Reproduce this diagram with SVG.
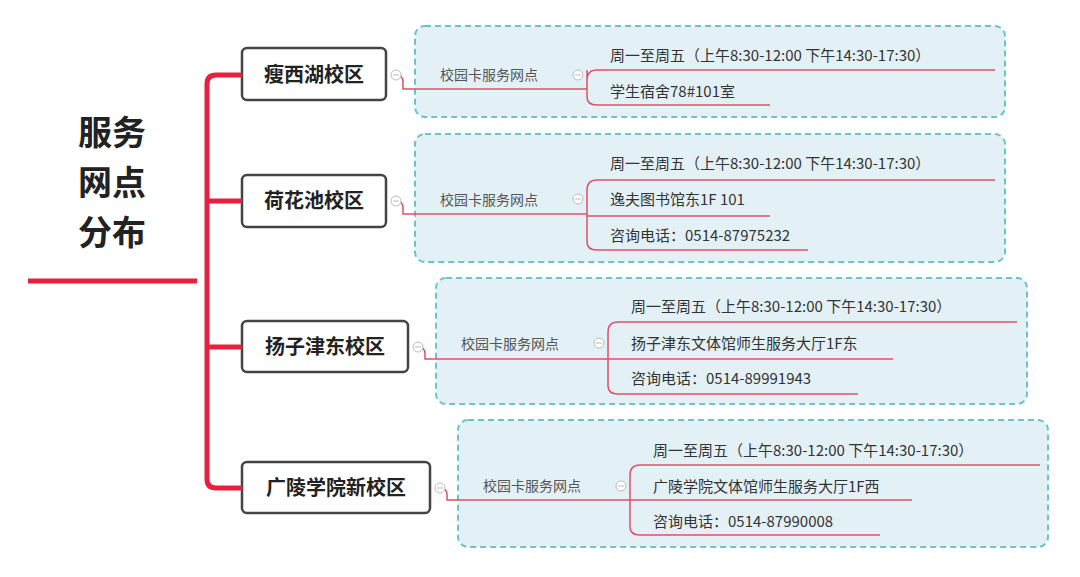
<svg xmlns="http://www.w3.org/2000/svg" width="1080" height="577" viewBox="0 0 1080 577">
<style>
text{font-family:"Noto Sans CJK SC","Noto Sans",sans-serif}
.title{font-size:34px;font-weight:bold;fill:#222}
.node rect{fill:#fff;stroke:#444;stroke-width:2.5}
.nt{font-size:20px;font-weight:bold;fill:#222}
.grp{fill:#e3f1f6;stroke:#6cc3c9;stroke-width:2;stroke-dasharray:6 4}
.lab{font-size:14px;fill:#555}
.it{font-size:15px;fill:#333}
.ln{fill:none;stroke:#e0506a;stroke-width:1.5}
.trunk{fill:none;stroke:#e8203f;stroke-width:5}
.col{fill:#fff;stroke:#bbb;stroke-width:1}
.mn{stroke:#bbb;stroke-width:1}
</style>
<rect width="1080" height="577" fill="#fff"/>
<g id="title"><text class="title" x="78" y="145">服务</text><text class="title" x="78" y="195">网点</text><text class="title" x="78" y="245">分布</text></g>
<g id="n1" class="node"><rect x="242" y="48" width="144" height="52" rx="5"/><text class="nt" x="314" y="82" text-anchor="middle">瘦西湖校区</text></g>
<g id="n2" class="node"><rect x="242" y="175" width="144" height="52" rx="5"/><text class="nt" x="314" y="208" text-anchor="middle">荷花池校区</text></g>
<g id="n3" class="node"><rect x="242" y="321" width="166" height="51" rx="5"/><text class="nt" x="325" y="354" text-anchor="middle">扬子津东校区</text></g>
<g id="n4" class="node"><rect x="242" y="462" width="188" height="51" rx="5"/><text class="nt" x="336" y="495" text-anchor="middle">广陵学院新校区</text></g>
<g id="g1"><rect class="grp" x="415" y="26" width="590" height="91" rx="10"/>
<text class="lab" x="440" y="80">校园卡服务网点</text>
<text class="it" x="610" y="61">周一至周五（上午8:30-12:00 下午14:30-17:30）</text>
<text class="it" x="610" y="97">学生宿舍78#101室</text></g>
<g id="g2"><rect class="grp" x="415" y="134" width="590" height="128" rx="10"/>
<text class="lab" x="440" y="205">校园卡服务网点</text>
<text class="it" x="610" y="169">周一至周五（上午8:30-12:00 下午14:30-17:30）</text>
<text class="it" x="610" y="205">逸夫图书馆东1F 101</text>
<text class="it" x="610" y="241">咨询电话：0514-87975232</text></g>
<g id="g3"><rect class="grp" x="436" y="278" width="591" height="126" rx="10"/>
<text class="lab" x="461" y="349">校园卡服务网点</text>
<text class="it" x="631" y="312">周一至周五（上午8:30-12:00 下午14:30-17:30）</text>
<text class="it" x="631" y="349">扬子津东文体馆师生服务大厅1F东</text>
<text class="it" x="631" y="384">咨询电话：0514-89991943</text></g>
<g id="g4"><rect class="grp" x="458" y="420" width="590" height="127" rx="10"/>
<text class="lab" x="483" y="491">校园卡服务网点</text>
<text class="it" x="653" y="456">周一至周五（上午8:30-12:00 下午14:30-17:30）</text>
<text class="it" x="653" y="492">广陵学院文体馆师生服务大厅1F西</text>
<text class="it" x="653" y="527">咨询电话：0514-87990008</text></g>
<g id="connectors">
<path class="trunk" d="M28 281H197"/>
<path class="trunk" d="M242 75H216Q207 75 207 84V479Q207 488 216 488H242M207 201H242M207 347H242"/>
<path class="ln" d="M396 75Q403 75 403 82V89H587M587 70V97M587 80Q587 70 597 70H995M587 97Q587 105 597 105H770"/>
<path class="ln" d="M396 201Q403 201 403 208V214H587M597 180H995M587 190Q587 180 597 180M587 190V242Q587 250 597 250H808M587 216H770"/>
<path class="ln" d="M418 347Q425 347 425 354V359H608M618 322H1017M608 332Q608 322 618 322M608 332V386Q608 394 618 394H858M608 359H893"/>
<path class="ln" d="M440 488Q447 488 447 495V500H630M640 465H1040M630 475Q630 465 640 465M630 475V527Q630 535 640 535H880M630 500H912"/>
<circle class="col" cx="396" cy="75" r="5"/><circle class="col" cx="396" cy="201" r="5"/><circle class="col" cx="418" cy="347" r="5"/><circle class="col" cx="440" cy="488" r="5"/>
<circle class="col" cx="578" cy="75" r="5"/><circle class="col" cx="578" cy="199" r="5"/><circle class="col" cx="599" cy="343" r="5"/><circle class="col" cx="621" cy="486" r="5"/>
<path class="mn" d="M393 75h6M393 201h6M415 347h6M437 488h6M575 75h6M575 199h6M596 343h6M618 486h6"/>
</g>
</svg>
